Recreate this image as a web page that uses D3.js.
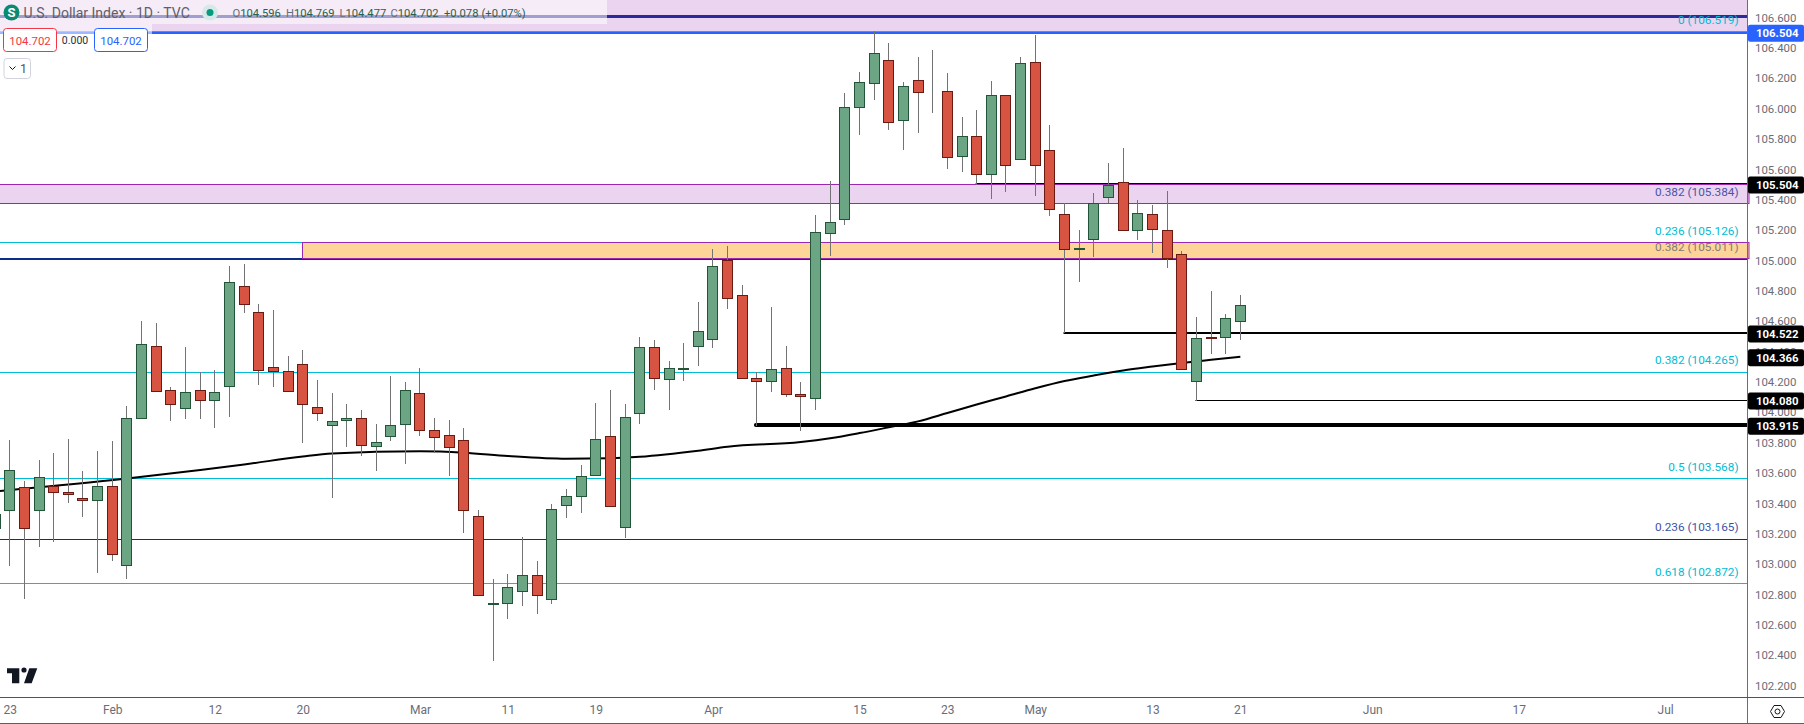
<!DOCTYPE html>
<html>
<head>
<meta charset="utf-8">
<title>U.S. Dollar Index 1D</title>
<script src="https://cdn.jsdelivr.net/npm/d3@7"></script>
<style>
  html, body { margin: 0; padding: 0; background: #ffffff; }
  svg { display: block; font-family: Roboto, sans-serif; }
</style>
</head>
<body>
<svg id="chart" width="1804" height="724"></svg>
<script>
// Daily bars, oldest first. The first one is cut off by the left edge.
const opens = [
  103.234, 103.353, 103.504, 103.353, 103.511, 103.472, 103.432, 103.419, 103.511, 102.991,
  103.959, 104.433, 104.143, 104.025, 104.143, 104.078, 104.170, 104.829, 104.657, 104.295,
  104.269, 104.315, 104.031, 103.913, 103.946, 103.959, 103.775, 103.840, 103.919, 104.124,
  103.880, 103.847, 103.814, 103.313, 102.734, 102.740, 102.819, 102.925, 102.767, 103.386,
  103.445, 103.584, 103.840, 103.241, 103.992, 104.427, 104.216, 104.285, 104.433, 104.479,
  105.000, 104.769, 104.223, 104.203, 104.288, 104.117, 104.091, 105.178, 105.270, 106.008,
  106.166, 106.317, 105.922, 106.186, 106.110, 106.113, 105.685, 105.817, 105.566, 106.087,
  105.665, 106.304, 105.725, 105.303, 105.075, 105.138, 105.415, 105.514, 105.198, 105.303,
  105.198, 105.039, 104.203, 104.493, 104.493, 104.596,
];
const highs = [
  103.452, 103.814, 103.544, 103.682, 103.728, 103.821, 103.610, 103.742, 103.808, 104.038,
  104.598, 104.585, 104.163, 104.427, 104.262, 104.275, 104.960, 104.974, 104.710, 104.670,
  104.367, 104.407, 104.209, 104.124, 104.051, 104.012, 103.919, 104.236, 104.196, 104.288,
  103.959, 103.946, 103.893, 103.353, 102.898, 102.931, 103.175, 103.017, 103.392, 103.491,
  103.649, 104.058, 104.143, 104.051, 104.493, 104.473, 104.334, 104.453, 104.723, 105.072,
  105.092, 104.835, 104.262, 104.690, 104.433, 104.196, 105.296, 105.520, 106.100, 106.238,
  106.508, 106.429, 106.172, 106.337, 106.383, 106.232, 105.942, 105.988, 106.179, 106.087,
  106.337, 106.482, 105.889, 105.375, 105.198, 105.441, 105.639, 105.738, 105.395, 105.362,
  105.454, 105.059, 104.624, 104.796, 104.644, 104.769,
];
const lows = [
  103.122, 102.991, 102.773, 103.116, 103.149, 103.406, 103.313, 102.945, 103.024, 102.905,
  103.959, 104.137, 103.946, 103.959, 103.959, 103.900, 103.972, 104.657, 104.183, 104.170,
  104.137, 103.801, 103.946, 103.439, 103.775, 103.715, 103.616, 103.814, 103.663, 103.847,
  103.735, 103.584, 103.208, 102.793, 102.365, 102.642, 102.727, 102.674, 102.740, 103.307,
  103.340, 103.584, 103.379, 103.175, 103.926, 104.150, 104.018, 104.209, 104.308, 104.427,
  104.684, 104.223, 103.913, 104.137, 104.104, 103.880, 104.018, 105.033, 105.237, 105.830,
  106.060, 105.863, 105.731, 105.843, 105.975, 105.606, 105.586, 105.501, 105.408, 105.454,
  105.665, 105.428, 105.296, 104.526, 104.862, 105.026, 105.382, 105.198, 105.138, 105.053,
  104.954, 104.282, 104.078, 104.387, 104.387, 104.477,
];
const closes = [
  103.327, 103.616, 103.234, 103.570, 103.472, 103.458, 103.419, 103.511, 103.063, 103.959,
  104.446, 104.137, 104.051, 104.130, 104.078, 104.130, 104.855, 104.710, 104.275, 104.269,
  104.137, 104.051, 103.992, 103.939, 103.959, 103.781, 103.801, 103.913, 104.143, 103.880,
  103.834, 103.768, 103.353, 102.793, 102.740, 102.846, 102.925, 102.793, 103.360, 103.445,
  103.577, 103.821, 103.379, 103.966, 104.427, 104.223, 104.288, 104.288, 104.532, 104.960,
  104.749, 104.223, 104.203, 104.282, 104.117, 104.104, 105.184, 105.250, 106.008, 106.172,
  106.363, 105.909, 106.146, 106.107, 106.113, 105.678, 105.817, 105.566, 106.087, 105.626,
  106.298, 105.626, 105.336, 105.072, 105.079, 105.375, 105.494, 105.198, 105.309, 105.204,
  105.013, 104.282, 104.486, 104.486, 104.618, 104.702,
];

// 200 day average, read at these bars
const maBars = [0, 9, 14, 17, 21, 23, 29, 32, 35, 39, 42, 44, 48, 50, 55, 57, 59, 61, 63, 65, 67, 69, 71, 73, 75, 77, 79, 81, 83, 85];
const maValues = [
  103.478, 103.563, 103.620, 103.656, 103.709, 103.728, 103.743, 103.734, 103.712, 103.694,
  103.697, 103.707, 103.747, 103.773, 103.804, 103.829, 103.863, 103.901, 103.940, 103.995,
  104.051, 104.104, 104.158, 104.206, 104.242, 104.275, 104.301, 104.325, 104.346, 104.366,
];

// Axis labels
const priceTicks = [
  102.2, 102.4, 102.6, 102.8, 103.0, 103.2, 103.4, 103.6, 103.8, 104.0, 104.2,
  104.4, 104.6, 104.8, 105.0, 105.2, 105.4, 105.6, 105.8, 106.0, 106.2, 106.4, 106.6,
];
const timeTickBars = [1, 8, 15, 21, 29, 35, 41, 49, 59, 65, 71, 79, 85, 94, 104, 114];
const timeTickLabels = ['23', 'Feb', '12', '20', 'Mar', '11', '19', 'Apr', '15', '23', 'May', '13', '21', 'Jun', '17', 'Jul'];

// Fib levels and the text next to them
const fibValues = [106.508, 105.118, 105.375, 105.011, 104.265, 103.564, 103.165, 102.872];
const fibLabels = [
  '0 (106.519)', '0.236 (105.126)', '0.382 (105.384)', '0.382 (105.011)',
  '0.382 (104.265)', '0.5 (103.568)', '0.236 (103.165)', '0.618 (102.872)',
];

// Zones
const upperZone = [106.72, 106.505];
const middleZone = [105.5, 105.375];
const lowerZone = [105.118, 105.013];
const lowerZoneBar = 21;

// Black horizontal levels, each one starts at a bar
const levelBars = [52, 67, 73, 82];
const levelValues = [103.915, 105.508, 104.522, 104.08];

// Price tags on the axis
const tagValues = [106.504, 105.504, 104.522, 104.366, 104.08, 103.915];
const tagLabels = ['106.504', '105.504', '104.522', '104.366', '104.080', '103.915'];

const SVG_WIDTH = 1804;
const PLOT_RIGHT = 1747;
const PLOT_BOTTOM = 697;

const upColor = '#6ba583';
const upBorder = '#225437';
const downColor = '#d75442';
const downBorder = '#6b1a12';
const wickColor = '#737375';
const fibCyan = '#00bcd4';
const fibNavy = '#0d2d8a';
const zoneFill = '#ead4ef';
const zoneBorder = '#9c27b0';
const textGray = '#6a6d78';

const svg = d3.select('#chart');

const x = d3.scaleLinear().domain([0, 114]).range([-4.9, 1665.2]);
const y = d3.scaleLinear().domain([106.6, 102.2]).range([17.6, 685.5]);

const crisp = (v) => Math.floor(v) + 0.5;

//
// Zones and levels, behind the bars
//

const levels = svg.append('g');

levels
  .append('rect')
  .attr('x', 0)
  .attr('y', y(upperZone[0]))
  .attr('width', PLOT_RIGHT)
  .attr('height', y(upperZone[1]) - y(upperZone[0]))
  .attr('fill', zoneFill);

levels
  .append('line')
  .attr('x1', 0)
  .attr('x2', PLOT_RIGHT)
  .attr('y1', 16.5)
  .attr('y2', 16.5)
  .attr('stroke', '#2a2a9a')
  .attr('stroke-width', 3);

const fibColors = [fibCyan, fibCyan, null, fibNavy, fibCyan, fibCyan, fibNavy, '#1eb5c5'];
const fibWidths = [1, 1, 1, 2, 1, 1, 1, 1];

fibValues.forEach((value, i) => {
  if (!fibColors[i]) {
    return;
  }
  const lineY = fibWidths[i] === 2 ? Math.round(y(value)) : crisp(y(value));
  levels
    .append('line')
    .attr('x1', 0)
    .attr('x2', PLOT_RIGHT)
    .attr('y1', lineY)
    .attr('y2', lineY)
    .attr('stroke', fibColors[i])
    .attr('stroke-width', fibWidths[i]);
});

levels
  .append('line')
  .attr('x1', 0)
  .attr('x2', PLOT_RIGHT)
  .attr('y1', Math.round(y(106.499)))
  .attr('y2', Math.round(y(106.499)))
  .attr('stroke', '#2962ff')
  .attr('stroke-width', 2);

levels
  .append('rect')
  .attr('x', -2)
  .attr('y', crisp(y(middleZone[0])))
  .attr('width', PLOT_RIGHT + 4)
  .attr('height', crisp(y(middleZone[1])) - crisp(y(middleZone[0])))
  .attr('fill', zoneFill)
  .attr('stroke', zoneBorder);

levels
  .append('rect')
  .attr('x', crisp(x(lowerZoneBar)))
  .attr('y', crisp(y(lowerZone[0])))
  .attr('width', PLOT_RIGHT + 2 - crisp(x(lowerZoneBar)))
  .attr('height', crisp(y(lowerZone[1])) - crisp(y(lowerZone[0])))
  .attr('fill', '#fed598')
  .attr('stroke', zoneBorder);

//
// Moving average
//

const maLine = d3
  .line()
  .curve(d3.curveMonotoneX)
  .x((d) => x(d))
  .y((d, i) => y(maValues[i]));

svg
  .append('path')
  .datum(maBars)
  .attr('fill', 'none')
  .attr('stroke', '#000000')
  .attr('stroke-width', 2)
  .attr('d', maLine);

//
// Black levels
//

const levelWidths = [4, 1, 2, 1];

levelBars.forEach((bar, i) => {
  const lineY = levelWidths[i] % 2 ? crisp(y(levelValues[i])) : Math.round(y(levelValues[i]));
  svg
    .append('line')
    .attr('x1', x(bar) - 1)
    .attr('x2', PLOT_RIGHT)
    .attr('y1', lineY)
    .attr('y2', lineY)
    .attr('stroke', '#000000')
    .attr('stroke-width', levelWidths[i])
    .attr('stroke-linecap', levelWidths[i] === 4 ? 'round' : 'butt');
});

//
// Candles
//

const candles = svg
  .append('g')
  .selectAll('g')
  .data(opens)
  .join('g')
  .attr('transform', (d, i) => `translate(${crisp(x(i))},0)`);

candles
  .append('line')
  .attr('y1', (d, i) => crisp(y(highs[i])) - 0.5)
  .attr('y2', (d, i) => crisp(y(lows[i])) + 0.5)
  .attr('stroke', wickColor);

candles
  .append('rect')
  .attr('x', -5)
  .attr('width', 10)
  .attr('y', (d, i) => crisp(y(Math.max(opens[i], closes[i]))))
  .attr('height', (d, i) => crisp(y(Math.min(opens[i], closes[i]))) - crisp(y(Math.max(opens[i], closes[i]))))
  .attr('fill', (d, i) => (closes[i] >= opens[i] ? upColor : downColor))
  .attr('stroke', (d, i) => (closes[i] >= opens[i] ? upBorder : downBorder));

//
// Fib labels
//

const fibTextColors = [fibCyan, fibCyan, '#4a55a8', '#7e7b78', fibCyan, fibCyan, '#3f51a8', fibCyan];

svg
  .append('g')
  .selectAll('text')
  .data(fibLabels)
  .join('text')
  .attr('x', 1738.5)
  .attr('y', (d, i) => y(fibValues[i]) - 12)
  .attr('dy', '0.35em')
  .attr('text-anchor', 'end')
  .attr('font-size', 11.8)
  .attr('fill', (d, i) => fibTextColors[i])
  .text((d) => d);

//
// Axes
//

const priceAxis = svg
  .append('g')
  .attr('transform', `translate(${PLOT_RIGHT},0)`)
  .call(d3.axisRight(y).tickValues(priceTicks).tickSize(0).tickPadding(8).tickFormat(d3.format('.3f')));

priceAxis.select('.domain').remove();
priceAxis.selectAll('text').attr('font-size', 11.4).attr('font-family', 'Roboto, sans-serif').attr('fill', textGray);

const timeAxis = svg
  .append('g')
  .attr('transform', `translate(0,${PLOT_BOTTOM})`)
  .call(
    d3
      .axisBottom(x)
      .tickValues(timeTickBars)
      .tickSize(0)
      .tickPadding(8)
      .tickFormat((d, i) => timeTickLabels[i]),
  );

timeAxis.select('.domain').remove();
timeAxis.selectAll('text').attr('font-size', 12).attr('font-family', 'Roboto, sans-serif').attr('fill', textGray);

svg
  .append('line')
  .attr('x1', crisp(PLOT_RIGHT))
  .attr('x2', crisp(PLOT_RIGHT))
  .attr('y1', 0)
  .attr('y2', 724)
  .attr('stroke', '#6a6d78');

svg
  .append('line')
  .attr('x1', 0)
  .attr('x2', SVG_WIDTH)
  .attr('y1', PLOT_BOTTOM + 0.5)
  .attr('y2', PLOT_BOTTOM + 0.5)
  .attr('stroke', '#50535e');

svg
  .append('line')
  .attr('x1', 0)
  .attr('x2', SVG_WIDTH)
  .attr('y1', 723.5)
  .attr('y2', 723.5)
  .attr('stroke', '#2f62d0');

//
// Price tags
//

const tagColors = ['#2962ff', '#000000', '#000000', '#000000', '#000000', '#000000'];

const tags = svg
  .append('g')
  .selectAll('g')
  .data(tagValues)
  .join('g')
  .attr('transform', (d) => `translate(${PLOT_RIGHT + 1},${y(d) + 1})`);

tags
  .append('rect')
  .attr('y', -8.5)
  .attr('width', 56)
  .attr('height', 17)
  .attr('rx', 2)
  .attr('fill', (d, i) => tagColors[i]);

tags
  .append('text')
  .attr('x', 8)
  .attr('dy', '0.35em')
  .attr('font-size', 11.4)
  .attr('font-weight', 700)
  .attr('fill', '#ffffff')
  .text((d, i) => tagLabels[i]);

//
// Settings icon
//

const settings = svg.append('g').attr('transform', 'translate(1777.5,711.5)');

settings
  .append('polygon')
  .attr('points', '-7,0 -3.5,-6 3.5,-6 7,0 3.5,6 -3.5,6')
  .attr('fill', 'none')
  .attr('stroke', '#131722');

settings
  .append('circle')
  .attr('r', 2.5)
  .attr('fill', 'none')
  .attr('stroke', '#131722');

//
// TradingView logo
//

const logo = svg.append('g').attr('fill', '#131722');

logo.append('path').attr('d', 'M7 668.3H19.3V683.3H12V673.3H7Z');
logo.append('circle').attr('cx', 24).attr('cy', 670).attr('r', 2.6);
logo.append('path').attr('d', 'M37.3 668.3L31.7 683.3H24L29.3 668.3Z');

//
// Legend on top of the chart
//

const legend = svg.append('g');

legend.append('rect').attr('width', 607).attr('height', 24).attr('fill', 'rgba(255,255,255,0.55)');
legend.append('rect').attr('y', 24).attr('width', 152).attr('height', 10).attr('fill', 'rgba(255,255,255,0.55)');

legend.append('circle').attr('cx', 11.5).attr('cy', 12.5).attr('r', 8).attr('fill', '#0b8a73');

legend
  .append('text')
  .attr('x', 11.5)
  .attr('y', 17)
  .attr('text-anchor', 'middle')
  .attr('font-size', 13)
  .attr('font-weight', 700)
  .attr('fill', '#ffffff')
  .text('S');

legend
  .append('text')
  .attr('x', 23.5)
  .attr('y', 18)
  .attr('font-size', 14)
  .attr('fill', '#5d606b')
  .text('U.S. Dollar Index · 1D · TVC');

legend.append('circle').attr('cx', 210).attr('cy', 12.5).attr('r', 8).attr('fill', '#d6e9e9');
legend.append('circle').attr('cx', 210).attr('cy', 12.5).attr('r', 3.5).attr('fill', '#089981');

const ohlcNames = ['O', 'H', 'L', 'C', '', ''];
const ohlcValues = ['104.596', '104.769', '104.477', '104.702', '+0.078', '(+0.07%)'];
const ohlcLeft = [232.5, 286, 339.5, 390.5, 444, 481.5];

ohlcValues.forEach((value, i) => {
  const item = legend
    .append('text')
    .attr('x', ohlcLeft[i])
    .attr('y', 17)
    .attr('font-size', 11.2);
  item.append('tspan').attr('fill', '#6a6d78').text(ohlcNames[i]);
  item.append('tspan').attr('fill', '#2a5f4d').text(value);
});

function pill(left, width, color, label) {
  legend
    .append('rect')
    .attr('x', left)
    .attr('y', 28.5)
    .attr('width', width)
    .attr('height', 23)
    .attr('rx', 3)
    .attr('fill', '#ffffff')
    .attr('stroke', color);
  legend
    .append('text')
    .attr('x', left + width / 2)
    .attr('y', 44.5)
    .attr('text-anchor', 'middle')
    .attr('font-size', 11.4)
    .attr('fill', color)
    .text(label);
}

pill(3.5, 53, '#f23645', '104.702');
pill(94.5, 53, '#2962ff', '104.702');

legend
  .append('text')
  .attr('x', 75)
  .attr('y', 44)
  .attr('text-anchor', 'middle')
  .attr('font-size', 10.5)
  .attr('fill', '#2a2e39')
  .text('0.000');

legend
  .append('rect')
  .attr('x', 4)
  .attr('y', 58.5)
  .attr('width', 26.5)
  .attr('height', 20)
  .attr('rx', 3)
  .attr('fill', '#ffffff')
  .attr('stroke', '#d1d4dc');

legend
  .append('path')
  .attr('d', 'M9.5 66.5L12.5 69.5L15.5 66.5')
  .attr('fill', 'none')
  .attr('stroke', '#131722');

legend
  .append('text')
  .attr('x', 23.5)
  .attr('y', 73)
  .attr('text-anchor', 'middle')
  .attr('font-size', 12.5)
  .attr('fill', '#50535e')
  .text('1');
</script>
</body>
</html>
